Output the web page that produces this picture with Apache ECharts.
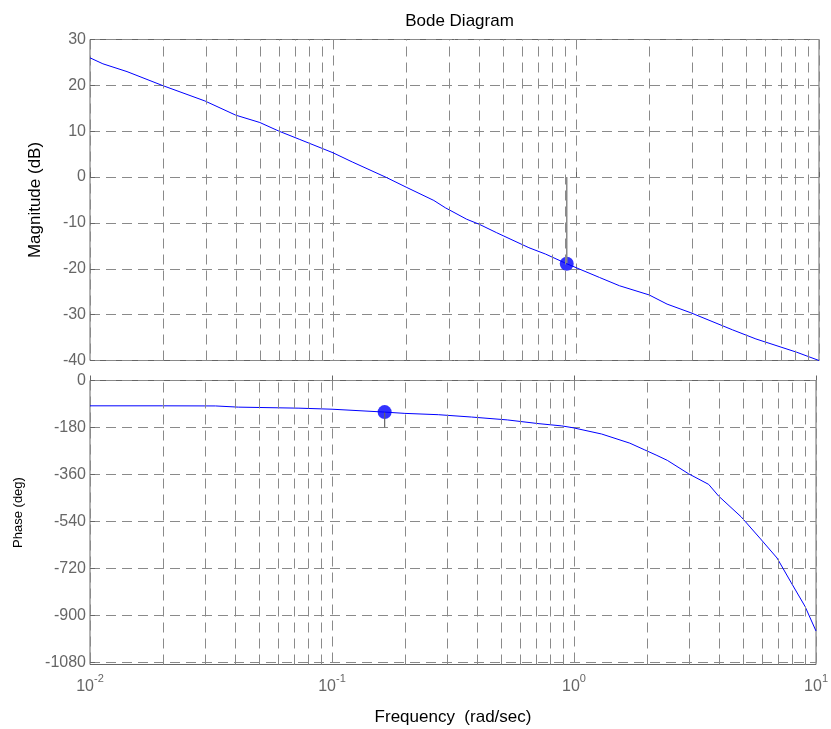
<!DOCTYPE html>
<html>
<head>
<meta charset="utf-8">
<script src="https://cdn.jsdelivr.net/npm/echarts@6/dist/echarts.min.js"></script>
<style>
html,body{margin:0;padding:0;background:#fff;}
#chart{width:831px;height:729px;}
</style>
</head>
<body>
<div id="chart"></div>
<script>
// ---- data ----
const magFreq = [0.01, 0.0113, 0.0142, 0.0198, 0.0297, 0.0398, 0.05, 0.06, 0.073, 0.1, 0.12, 0.166, 0.2, 0.26, 0.29, 0.355, 0.40, 0.47, 0.64, 0.75, 0.916, 1.25, 1.51, 2.0, 2.37, 2.97, 4.4, 5.5, 8.1, 10];
const magDb   = [26.0, 24.7, 23.0, 20.0, 16.6, 13.5, 11.9, 10.0, 8.2, 5.3, 3.3, -0.1, -2.2, -5.1, -6.7, -9.2, -10.3, -12.1, -15.4, -16.8, -18.9, -21.9, -23.7, -25.7, -27.7, -29.6, -33.3, -35.3, -38.2, -40.0];
const phaseFreq = [0.01, 0.02, 0.033, 0.041, 0.073, 0.1, 0.165, 0.2, 0.275, 0.377, 0.53, 0.71, 0.89, 0.99, 1.3, 1.70, 1.95, 2.2, 2.43, 2.97, 3.6, 3.96, 4.9, 5.9, 6.9, 7.9, 9.0, 10];
const phaseDeg  = [-97, -97, -97.5, -102, -106, -110, -121, -126, -131, -140, -151, -165, -174, -181, -205, -240, -265, -287, -306, -357, -398, -443, -522, -607, -680, -775, -865, -960];
const gmFreq = 0.916, gmDb = -18.9;   // gain margin marker
const pmFreq = 0.165, pmDeg = -121;   // phase margin marker
const magTicks = [30, 20, 10, 0, -10, -20, -30, -40];
const phaseTicks = [0, -180, -360, -540, -720, -900, -1080];
const minorFreqs = [0.02,0.03,0.04,0.05,0.06,0.07,0.08,0.09,0.2,0.3,0.4,0.5,0.6,0.7,0.8,0.9,2,3,4,5,6,7,8,9];
const titleText = 'Bode Diagram';
const magName = 'Magnitude (dB)';
const phaseName = 'Phase (deg)';
const freqName = 'Frequency  (rad/sec)';

const zip = (a, b) => a.map((v, i) => [v, b[i]]);
const FONT = 'Liberation Sans, Arial, sans-serif';
const gridDash = [10, 6];
const gridColor = '#8a8a8a';

function xAxisCfg(gi, showLabels) {
  return {
    gridIndex: gi, type: 'log', logBase: 10, min: 0.01, max: 10,
    axisLine: {show: false},
    axisTick: {show: true, inside: true, length: 5, lineStyle: {color: '#666'}},
    splitLine: {show: true, lineStyle: {color: gridColor, type: gridDash, width: 1}},
    axisLabel: showLabels ? {
      show: true, margin: 9, fontFamily: FONT, color: '#666',
      formatter: v => '{b|10}{s|' + Math.round(Math.log10(v)) + '}',
      rich: {
        b: {fontSize: 16, fontFamily: FONT, color: '#666', verticalAlign: 'bottom'},
        s: {fontSize: 11, fontFamily: FONT, color: '#666', verticalAlign: 'bottom', padding: [0, 0, 10, 0]}
      }
    } : {show: false},
    name: showLabels ? freqName : '',
    nameLocation: 'middle', nameGap: 44,
    nameTextStyle: {fontFamily: FONT, fontSize: 17, color: '#000'}
  };
}

function minorLines(xi, yi) {
  return {
    type: 'line', xAxisIndex: xi, yAxisIndex: yi, data: [], silent: true,
    markLine: {
      silent: true, symbol: ['none', 'none'], label: {show: false},
      lineStyle: {color: gridColor, type: gridDash, width: 1},
      emphasis: {disabled: true},
      data: minorFreqs.map(f => ({xAxis: f}))
    }
  };
}

const option = {
  animation: false,
  backgroundColor: '#fff',
  title: {
    text: titleText, left: 454.5, textAlign: 'center', top: 8,
    textStyle: {fontFamily: FONT, fontSize: 17, fontWeight: 'normal', color: '#000'}
  },
  grid: [
    {left: 90, top: 39.5, width: 729, height: 321, show: true, borderColor: '#666', borderWidth: 1},
    {left: 90, top: 380.5, width: 729, height: 284, show: true, borderColor: '#666', borderWidth: 1}
  ],
  xAxis: [xAxisCfg(0, false), xAxisCfg(1, true)],
  yAxis: [
    {
      gridIndex: 0, type: 'value', min: -40, max: 30, interval: 10,
      axisLine: {show: false},
      axisTick: {show: true, inside: true, length: 5, lineStyle: {color: '#666'}},
      splitLine: {show: true, lineStyle: {color: gridColor, type: gridDash, width: 1}},
      axisLabel: {margin: 4, fontFamily: FONT, fontSize: 16, color: '#666', formatter: v => String(v)},
      name: magName, nameLocation: 'middle', nameGap: 46,
      nameTextStyle: {fontFamily: FONT, fontSize: 17, color: '#000'}
    },
    {
      gridIndex: 1, type: 'value', min: -1088, max: 0,
      axisLine: {show: false},
      axisTick: {show: true, inside: true, length: 5, customValues: phaseTicks, lineStyle: {color: '#666'}},
      splitLine: {show: true, lineStyle: {color: gridColor, type: gridDash, width: 1}},
      axisLabel: {margin: 4, fontFamily: FONT, fontSize: 16, color: '#666', customValues: phaseTicks, formatter: v => String(v)},
      name: phaseName, nameLocation: 'middle', nameGap: 65,
      nameTextStyle: {fontFamily: FONT, fontSize: 13, color: '#000', padding: [0, 0, 0, 20]}
    }
  ],
  series: [
    minorLines(0, 0),
    minorLines(1, 1),
    {
      type: 'line', xAxisIndex: 0, yAxisIndex: 0, data: [[gmFreq, 0], [gmFreq, gmDb]],
      showSymbol: false, silent: true, lineStyle: {color: '#888', width: 1.5}
    },
    {
      type: 'line', xAxisIndex: 1, yAxisIndex: 1, data: [[pmFreq, pmDeg], [pmFreq, -180]],
      showSymbol: false, silent: true, lineStyle: {color: '#666', width: 1.2}
    },
    {
      type: 'line', xAxisIndex: 0, yAxisIndex: 0, data: zip(magFreq, magDb),
      showSymbol: false, smooth: false, lineStyle: {color: '#0000ff', width: 1}
    },
    {
      type: 'line', xAxisIndex: 1, yAxisIndex: 1, data: zip(phaseFreq, phaseDeg),
      showSymbol: false, smooth: false, lineStyle: {color: '#0000ff', width: 1}
    },
    {
      type: 'scatter', xAxisIndex: 0, yAxisIndex: 0, data: [[gmFreq, gmDb]],
      symbolSize: 14, itemStyle: {color: '#0000ff'}
    },
    {
      type: 'scatter', xAxisIndex: 1, yAxisIndex: 1, data: [[pmFreq, pmDeg]],
      symbolSize: 14, itemStyle: {color: '#0000ff'}
    }
  ]
};

const chart = echarts.init(document.getElementById('chart'), null, {renderer: 'canvas'});
chart.setOption(option);
</script>
</body>
</html>
